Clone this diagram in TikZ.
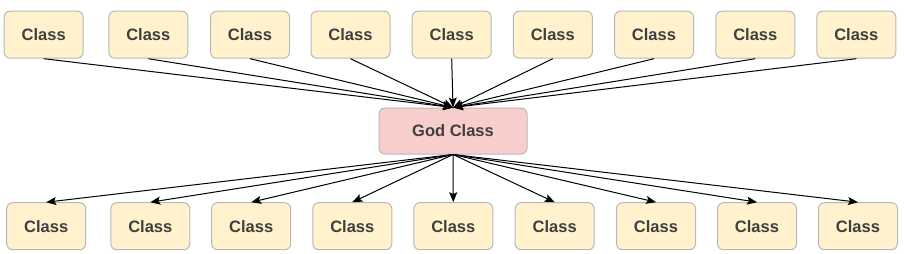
\documentclass[tikz,border=0pt]{standalone}
\usepackage{fontspec}
\setmainfont{Liberation Sans}
\usetikzlibrary{arrows.meta}
\definecolor{classfill}{HTML}{FFF2CC}
\definecolor{godfill}{HTML}{F8CECC}
\definecolor{boxline}{HTML}{B8B8B8}
\definecolor{labeltext}{HTML}{3F3F3F}

\begin{document}
\begin{tikzpicture}[x=1pt, y=-1pt, >={Stealth[length=10pt, width=8pt, inset=2pt]},
    classbox/.style={draw=boxline, line width=1pt, fill=classfill, rounded corners=6pt, minimum width=79pt,
        minimum height=47pt, inner sep=0pt, text=labeltext, font=\fontsize{16.5}{19}\selectfont\bfseries},
    godbox/.style={classbox, fill=godfill, minimum width=148pt, minimum height=46pt},
    dep/.style={->, line width=1pt}]
            \useasboundingbox (0,0) rectangle (904,254);
            
            % God class
            \node[godbox] (god) at (453,131) {God Class};
            
            % Top row
            \foreach \i/\x in {0/43.7, 1/148.3, 2/250, 3/350.5, 4/451.7, 5/552.8, 6/654, 7/755.3, 8/856.3}
                \node[classbox] (top\i) at (\x, 34.7) {Class};
            
            % Bottom row
            \foreach \i/\x in {0/46.2, 1/150.3, 2/251.2, 3/352.3, 4/453.3, 5/554.7, 6/656, 7/757, 8/858}
                \node[classbox] (bot\i) at (\x, 226.2) {Class};
            
            % Dependencies
            \foreach \i in {0,...,8} {
                \draw[dep] (top\i.south) -- (god.north);
                \draw[dep] (god.south) -- (bot\i.north);
            }
        \end{tikzpicture}
\end{document}
